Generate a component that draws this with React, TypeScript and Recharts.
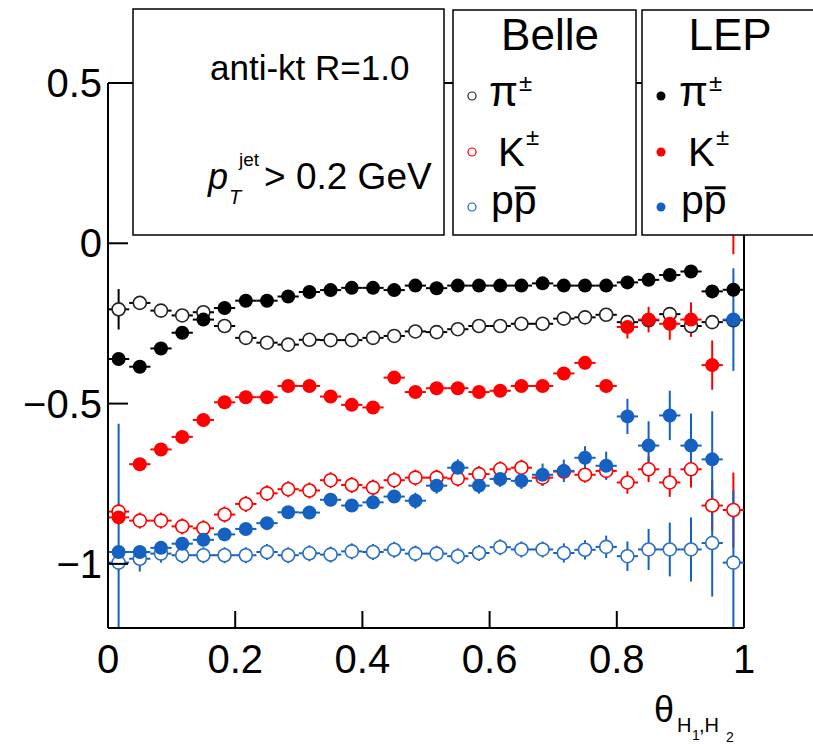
import { ScatterChart, Scatter, XAxis, YAxis, ErrorBar, ReferenceLine } from 'recharts';

// bin centres in theta (30 bins over [0, 1])
const theta = [
  0.0167, 0.05, 0.0833, 0.1167, 0.15, 0.1833, 0.2167, 0.25, 0.2833, 0.3167,
  0.35, 0.3833, 0.4167, 0.45, 0.4833, 0.5167, 0.55, 0.5833, 0.6167, 0.65,
  0.6833, 0.7167, 0.75, 0.7833, 0.8167, 0.85, 0.8833, 0.9167, 0.95, 0.9833,
];
const halfBin = 0.0167;

const bellePi = [
  -0.206, -0.186, -0.21, -0.225, -0.215, -0.258, -0.295, -0.31, -0.316, -0.301,
  -0.302, -0.302, -0.295, -0.289, -0.275, -0.277, -0.268, -0.258, -0.258, -0.251,
  -0.251, -0.235, -0.231, -0.223, -0.246, -0.24, -0.221, -0.258, -0.246, -0.24,
];
const bellePiErr = [
  0.063, 0.008, 0.008, 0.008, 0.008, 0.008, 0.008, 0.008, 0.008, 0.008,
  0.008, 0.008, 0.008, 0.008, 0.008, 0.008, 0.008, 0.008, 0.008, 0.008,
  0.008, 0.008, 0.008, 0.008, 0.01, 0.01, 0.012, 0.012, 0.012, 0.012,
];
const belleK = [
  -0.837, -0.865, -0.865, -0.883, -0.889, -0.846, -0.813, -0.78, -0.767, -0.771,
  -0.739, -0.754, -0.762, -0.739, -0.731, -0.731, -0.734, -0.72, -0.705, -0.7,
  -0.731, -0.712, -0.722, -0.71, -0.746, -0.705, -0.746, -0.705, -0.818, -0.832,
];
const belleKErr = [
  0.025, 0.025, 0.025, 0.025, 0.025, 0.025, 0.025, 0.025, 0.025, 0.025,
  0.025, 0.025, 0.025, 0.025, 0.025, 0.025, 0.025, 0.025, 0.025, 0.025,
  0.025, 0.025, 0.025, 0.025, 0.035, 0.04, 0.045, 0.057, 0.08, 0.117,
];
const belleP = [
  -0.996, -0.984, -0.968, -0.973, -0.973, -0.973, -0.973, -0.963, -0.973, -0.967,
  -0.971, -0.961, -0.963, -0.956, -0.968, -0.968, -0.976, -0.966, -0.948, -0.955,
  -0.955, -0.966, -0.956, -0.947, -0.976, -0.955, -0.955, -0.955, -0.935, -0.996,
];
const bellePErr = [
  0.025, 0.04, 0.028, 0.025, 0.025, 0.025, 0.025, 0.025, 0.025, 0.025,
  0.025, 0.025, 0.025, 0.025, 0.025, 0.025, 0.025, 0.025, 0.025, 0.025,
  0.025, 0.03, 0.03, 0.035, 0.046, 0.064, 0.084, 0.1, 0.167, 0.225,
];
const lepPi = [
  -0.361, -0.385, -0.328, -0.279, -0.238, -0.202, -0.179, -0.179, -0.166, -0.152,
  -0.146, -0.139, -0.139, -0.146, -0.132, -0.14, -0.132, -0.132, -0.132, -0.132,
  -0.125, -0.132, -0.132, -0.132, -0.122, -0.114, -0.099, -0.088, -0.15, -0.145,
];
const lepPiErr = [
  0.008, 0.008, 0.008, 0.008, 0.008, 0.008, 0.008, 0.008, 0.008, 0.008,
  0.008, 0.008, 0.008, 0.008, 0.008, 0.008, 0.008, 0.008, 0.008, 0.008,
  0.008, 0.008, 0.008, 0.008, 0.008, 0.008, 0.008, 0.01, 0.012, 0.015,
];
const lepK = [
  -0.855, -0.689, -0.643, -0.604, -0.551, -0.496, -0.48, -0.48, -0.445, -0.445,
  -0.478, -0.504, -0.512, -0.419, -0.464, -0.452, -0.452, -0.464, -0.46, -0.445,
  -0.445, -0.406, -0.373, -0.445, -0.261, -0.238, -0.251, -0.238, -0.38, 0.066,
];
const lepKErr = [
  0.012, 0.012, 0.012, 0.012, 0.012, 0.012, 0.012, 0.012, 0.012, 0.012,
  0.012, 0.012, 0.012, 0.015, 0.015, 0.015, 0.015, 0.015, 0.015, 0.015,
  0.015, 0.02, 0.02, 0.02, 0.036, 0.04, 0.05, 0.054, 0.077, 0.1,
];
const lepP = [
  -0.963, -0.963, -0.95, -0.937, -0.925, -0.908, -0.891, -0.873, -0.839, -0.84,
  -0.8, -0.818, -0.808, -0.79, -0.803, -0.756, -0.7, -0.756, -0.735, -0.741,
  -0.722, -0.71, -0.669, -0.694, -0.54, -0.631, -0.537, -0.631, -0.674, -0.238,
];
const lepPErr = [
  0.4, 0.012, 0.012, 0.012, 0.012, 0.012, 0.012, 0.012, 0.012, 0.015,
  0.02, 0.02, 0.02, 0.02, 0.025, 0.025, 0.026, 0.025, 0.025, 0.025,
  0.035, 0.035, 0.036, 0.044, 0.055, 0.076, 0.077, 0.1, 0.15, 0.16,
];

const xTicks = [0, 0.2, 0.4, 0.6, 0.8, 1];
const yTicks = [-1, -0.5, 0, 0.5];

const BLACK = '#000000';
const RED = '#ff0000';
const BLUE = '#1461c2';
const FONT = '"Liberation Sans", Arial, Helvetica, sans-serif';

// plot frame in page pixels, used to clip the error bars
const FRAME = { x: 108, y: 83, w: 636, h: 545 };

const toPoints = (vals: number[], errs: number[]) =>
  theta.map((x, i) => ({ x, y: vals[i], ex: halfBin, ey: errs[i] }));

const openDot = (color: string) => (p: any) =>
  <circle cx={p.cx} cy={p.cy} r={6.5} fill="#fff" stroke={color} strokeWidth={1.6} />;
const fullDot = (color: string) => (p: any) =>
  <circle cx={p.cx} cy={p.cy} r={7} fill={color} stroke="none" />;

const fmtY = (v: number) => (v < 0 ? '\u2212' + String(-v) : String(v));

const YTick = (p: any) => (
  <g>
    <line x1={p.x} x2={p.x + 20} y1={p.y} y2={p.y} stroke={BLACK} strokeWidth={2} />
    <text x={p.x - 6} y={p.y} textAnchor="end" dominantBaseline="central" fontSize={40} fontFamily={FONT}>
      {fmtY(p.payload.value)}
    </text>
  </g>
);

const XTick = (p: any) => {
  const v = p.payload.value;
  const inner = v > 0 && v < 1;
  return (
    <g>
      {inner && <line x1={p.x} x2={p.x} y1={p.y} y2={p.y - 17} stroke={BLACK} strokeWidth={2} />}
      <text x={p.x} y={p.y + 31} textAnchor="middle" dominantBaseline="central" fontSize={40} fontFamily={FONT}>
        {String(v)}
      </text>
    </g>
  );
};

type SeriesDef = { key: string; vals: number[]; errs: number[]; color: string; open: boolean; bar: string };

// Belle first, LEP drawn on top
const series: SeriesDef[] = [
  { key: 'bellePi', vals: bellePi, errs: bellePiErr, color: '#222', open: true, bar: BLACK },
  { key: 'belleK', vals: belleK, errs: belleKErr, color: RED, open: true, bar: RED },
  { key: 'belleP', vals: belleP, errs: bellePErr, color: '#2a6fc4', open: true, bar: BLUE },
  { key: 'lepPi', vals: lepPi, errs: lepPiErr, color: BLACK, open: false, bar: BLACK },
  { key: 'lepK', vals: lepK, errs: lepKErr, color: RED, open: false, bar: RED },
  { key: 'lepP', vals: lepP, errs: lepPErr, color: BLUE, open: false, bar: BLUE },
];

function PBar({ x, y, size }: { x: number; y: number; size: number }) {
  // "p pbar" with an overline on the second p
  const w = size * 0.556;
  return (
    <g>
      <text x={x} y={y} fontSize={size} fontFamily={FONT}>pp</text>
      <line x1={x + w + 1} x2={x + 2 * w - 1} y1={y - size * 0.64} y2={y - size * 0.64} stroke={BLACK} strokeWidth={3} />
    </g>
  );
}

function Legends() {
  return (
    <svg width={813} height={744} style={{ position: 'absolute', left: 0, top: 0, pointerEvents: 'none' }}>
      <defs>
        <clipPath id="plotClip">
          <rect x={FRAME.x} y={FRAME.y} width={FRAME.w} height={FRAME.h} />
        </clipPath>
      </defs>

      {/* jet selection box */}
      <rect x={133} y={9} width={311} height={226} fill="#fff" stroke={BLACK} strokeWidth={1.5} />
      <text x={210} y={80} fontSize={35} fontFamily={FONT}>anti-kt R=1.0</text>
      <text x={208} y={189} fontSize={36} fontFamily={FONT} fontStyle="italic">p</text>
      <text x={229} y={204} fontSize={20} fontFamily={FONT} fontStyle="italic">T</text>
      <text x={239} y={166} fontSize={19} fontFamily={FONT}>jet</text>
      <text x={264} y={189} fontSize={37} fontFamily={FONT}>&gt; 0.2 GeV</text>

      {/* Belle box */}
      <rect x={453} y={10} width={183} height={225} fill="#fff" stroke={BLACK} strokeWidth={1.5} />
      <text x={550} y={50} textAnchor="middle" fontSize={44} fontFamily={FONT}>Belle</text>
      <circle cx={472} cy={96} r={4} fill="#fff" stroke="#222" strokeWidth={1.2} />
      <text x={489} y={106} fontSize={42} fontFamily={FONT}>π</text>
      <text x={519} y={91} fontSize={24} fontFamily={FONT}>±</text>
      <circle cx={472} cy={152} r={4} fill="#fff" stroke={RED} strokeWidth={1.2} />
      <text x={498} y={166} fontSize={40} fontFamily={FONT}>K</text>
      <text x={526} y={145} fontSize={24} fontFamily={FONT}>±</text>
      <circle cx={472} cy={207} r={4} fill="#fff" stroke={BLUE} strokeWidth={1.2} />
      <PBar x={491} y={214} size={41} />

      {/* LEP box */}
      <rect x={642} y={10} width={190} height={225} fill="#fff" stroke={BLACK} strokeWidth={1.5} />
      <text x={730} y={50} textAnchor="middle" fontSize={44} fontFamily={FONT}>LEP</text>
      <circle cx={661} cy={96} r={4.5} fill={BLACK} />
      <text x={679} y={106} fontSize={42} fontFamily={FONT}>π</text>
      <text x={709} y={91} fontSize={24} fontFamily={FONT}>±</text>
      <circle cx={661} cy={152} r={4.5} fill={RED} />
      <text x={688} y={166} fontSize={40} fontFamily={FONT}>K</text>
      <text x={716} y={145} fontSize={24} fontFamily={FONT}>±</text>
      <circle cx={661} cy={207} r={4.5} fill={BLUE} />
      <PBar x={681} y={214} size={41} />

      {/* axis title */}
      <text x={654} y={722} fontSize={36} fontFamily={FONT}>θ</text>
      <text x={677} y={732} fontSize={20} fontFamily={FONT}>H</text>
      <text x={692} y={740} fontSize={14} fontFamily={FONT}>1</text>
      <text x={699} y={732} fontSize={20} fontFamily={FONT}>,H</text>
      <text x={726} y={742} fontSize={14} fontFamily={FONT}>2</text>
    </svg>
  );
}

export default function App() {
  return (
    <div style={{ position: 'absolute', left: 0, top: 0, width: 813, height: 744, background: '#fff' }}>
      <style>{'.recharts-errorBars, .recharts-errorBar { clip-path: url(#plotClip); }'}</style>
      <ScatterChart width={813} height={744} margin={{ top: 83, right: 69, bottom: 56, left: 8 }}>
        <XAxis
          type="number"
          dataKey="x"
          domain={[0, 1]}
          ticks={xTicks}
          height={60}
          tickSize={0}
          tickMargin={0}
          tickLine={false}
          axisLine={{ stroke: BLACK, strokeWidth: 2 }}
          tick={XTick}
        />
        <YAxis
          type="number"
          dataKey="y"
          domain={[-1.2, 0.5]}
          ticks={yTicks}
          width={100}
          allowDataOverflow
          tickSize={0}
          tickMargin={0}
          tickLine={false}
          axisLine={{ stroke: BLACK, strokeWidth: 2 }}
          tick={YTick}
        />
        <ReferenceLine y={0.5} stroke={BLACK} strokeWidth={2} />
        <ReferenceLine x={1} stroke={BLACK} strokeWidth={2} />
        {series.map((s) => (
          <Scatter
            key={s.key}
            data={toPoints(s.vals, s.errs)}
            shape={s.open ? openDot(s.color) : fullDot(s.color)}
            isAnimationActive={false}
          >
            <ErrorBar dataKey="ex" direction="x" width={0} stroke={s.bar} strokeWidth={2} isAnimationActive={false} />
            <ErrorBar dataKey="ey" direction="y" width={0} stroke={s.bar} strokeWidth={2} isAnimationActive={false} />
          </Scatter>
        ))}
      </ScatterChart>
      <Legends />
    </div>
  );
}
